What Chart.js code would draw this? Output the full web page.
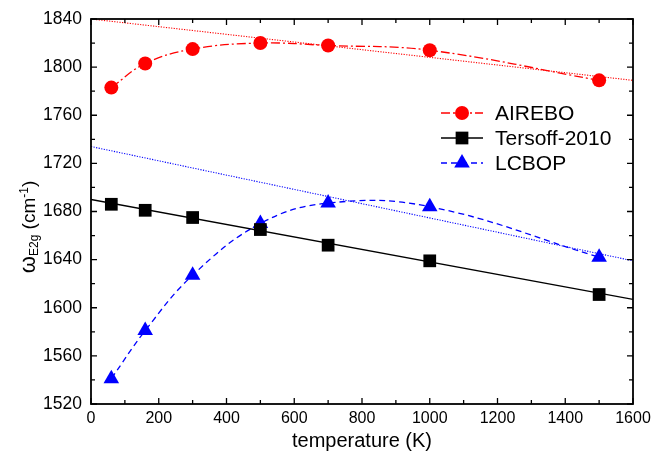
<!DOCTYPE html>
<html><head><meta charset="utf-8">
<script src="https://cdn.jsdelivr.net/npm/chart.js@4.4.1/dist/chart.umd.min.js"></script>
<style>html,body{margin:0;padding:0;background:#fff}#wrap{width:654px;height:454px;position:relative}</style>
</head><body><div id="wrap"><canvas id="c"></canvas></div>
<script>
// ---- data ----
const temperature = [60, 160, 300, 500, 700, 1000, 1500];
const airebo  = [1783, 1803, 1815, 1820, 1818, 1814, 1789];
const tersoff = [1686, 1681, 1675, 1665, 1652, 1639, 1611];
const lcbop   = [1541, 1581, 1627, 1670, 1687, 1684, 1642];
const fitTemperature = [0, 1600];
const aireboFit  = [1840, 1789];
const tersoffFit = [1690, 1607];
const lcbopFit   = [1734, 1639];
const seriesNames = ['AIREBO', 'Tersoff-2010', 'LCBOP'];
const xRange = [0, 1600], xMajor = 200, xMinor = 100;
const yRange = [1520, 1840], yMajor = 40, yMinor = 20;
const xTitle = 'temperature (K)';

const FONT = "'Liberation Sans', Arial, sans-serif";
const RED = '#ff0000', BLUE = '#0000ff', BLACK = '#000000';
const pts = (xs, ys) => xs.map((x, i) => ({x: x, y: ys[i]}));

const datasets = [
  {label: 'AIREBO fit', data: pts(fitTemperature, aireboFit), borderColor: RED, borderWidth: 1.1, borderDash: [1.2, 1.4], pointRadius: 0, fill: false},
  {label: 'LCBOP fit', data: pts(fitTemperature, lcbopFit), borderColor: BLUE, borderWidth: 1.1, borderDash: [1.2, 1.4], pointRadius: 0, fill: false},
  {label: 'Tersoff fit', data: pts(fitTemperature, tersoffFit), borderColor: BLACK, borderWidth: 1.3, pointRadius: 0, fill: false},
  {label: seriesNames[0], data: pts(temperature, airebo), borderColor: RED, backgroundColor: RED, borderWidth: 1.3, borderDash: [9, 3, 2, 3], tension: 0.4, pointStyle: 'circle', pointRadius: 7, pointBorderWidth: 0, pointBackgroundColor: RED, showLine: true},
  {label: seriesNames[1], data: pts(temperature, tersoff), borderColor: BLACK, backgroundColor: BLACK, borderWidth: 1.3, showLine: false, pointStyle: 'rect', pointRadius: 9, pointBorderWidth: 0, pointBackgroundColor: BLACK},
  {label: seriesNames[2], data: pts(temperature, lcbop), borderColor: BLUE, backgroundColor: BLUE, borderWidth: 1.3, borderDash: [6, 4], tension: 0.4, pointStyle: 'triangle', pointRadius: 9, pointBorderWidth: 0, pointBackgroundColor: BLUE, showLine: true}
];

const frameTicks = {
  id: 'frameTicks',
  afterDatasetsDraw(chart) {
    const {ctx, chartArea: {left, right, top, bottom}, scales: {x, y}} = chart;
    ctx.save();
    ctx.strokeStyle = BLACK; ctx.lineWidth = 1.3; ctx.setLineDash([]);
    ctx.beginPath();
    for (let v = xRange[0]; v <= xRange[1]; v += xMinor) {
      const p = x.getPixelForValue(v), len = (v % xMajor === 0) ? 6 : 4;
      ctx.moveTo(p, bottom); ctx.lineTo(p, bottom - len);
      ctx.moveTo(p, top); ctx.lineTo(p, top + len);
    }
    for (let v = yRange[0]; v <= yRange[1]; v += yMinor) {
      const p = y.getPixelForValue(v), len = ((v - yRange[0]) % yMajor === 0) ? 6 : 4;
      ctx.moveTo(left, p); ctx.lineTo(left + len, p);
      ctx.moveTo(right, p); ctx.lineTo(right - len, p);
    }
    ctx.stroke();
    ctx.lineWidth = 1.8;
    ctx.strokeRect(left, top, right - left, bottom - top);
    ctx.restore();
  }
};

const legendPlugin = {
  id: 'customLegend',
  afterDraw(chart) {
    const {ctx} = chart;
    const items = [
      {ds: chart.data.datasets[3], line: chart.data.datasets[3]},
      {ds: chart.data.datasets[4], line: chart.data.datasets[2]},
      {ds: chart.data.datasets[5], line: chart.data.datasets[5]}
    ];
    const x0 = 441, x1 = 483, xm = 462, xt = 495, y0 = 113, dy = 25;
    ctx.save();
    items.forEach((it, i) => {
      const yy = y0 + i * dy;
      ctx.strokeStyle = it.line.borderColor;
      ctx.lineWidth = 1.3;
      ctx.setLineDash(it.line.borderDash || []);
      ctx.beginPath(); ctx.moveTo(x0, yy); ctx.lineTo(x1, yy); ctx.stroke();
      ctx.setLineDash([]);
      ctx.fillStyle = it.ds.pointBackgroundColor;
      ctx.strokeStyle = it.ds.pointBackgroundColor;
      Chart.helpers.drawPoint(ctx, {pointStyle: it.ds.pointStyle, radius: it.ds.pointRadius, rotation: 0, borderWidth: 0}, xm, yy);
      ctx.fillStyle = BLACK;
      ctx.font = '21px ' + FONT;
      ctx.textBaseline = 'middle'; ctx.textAlign = 'left';
      ctx.fillText(it.ds.label, xt, yy + 1);
    });
    ctx.restore();
  }
};

const yTitlePlugin = {
  id: 'yTitle',
  afterDraw(chart) {
    const {ctx} = chart;
    const parts = [
      {t: '\u03c9', size: 22, dy: 0},
      {t: 'E2g', size: 12, dy: 3},
      {t: ' (cm', size: 19, dy: 0},
      {t: '-1', size: 12, dy: -7},
      {t: ')', size: 19, dy: 0}
    ];
    ctx.save();
    let total = 0;
    parts.forEach(p => { ctx.font = p.size + 'px ' + FONT; p.w = ctx.measureText(p.t).width; total += p.w; });
    ctx.translate(35, 227);
    ctx.rotate(-Math.PI / 2);
    ctx.fillStyle = BLACK; ctx.textBaseline = 'alphabetic'; ctx.textAlign = 'left';
    let cx = -total / 2;
    parts.forEach(p => { ctx.font = p.size + 'px ' + FONT; ctx.fillText(p.t, cx, p.dy); cx += p.w; });
    ctx.restore();
  }
};

new Chart(document.getElementById('c'), {
  type: 'line',
  data: {datasets: datasets},
  options: {
    responsive: true, maintainAspectRatio: false, animation: false,
    layout: {padding: {top: 19, right: 21, left: 0, bottom: 0}},
    plugins: {legend: {display: false}, tooltip: {enabled: false}},
    scales: {
      x: {
        type: 'linear', min: xRange[0], max: xRange[1],
        ticks: {stepSize: xMajor, color: BLACK, font: {family: FONT, size: 16}, padding: 5, maxRotation: 0, autoSkip: false, callback: v => String(v)},
        grid: {display: false, drawTicks: false}, border: {display: false},
        title: {display: true, text: xTitle, color: BLACK, font: {family: FONT, size: 20}, padding: {top: 0, bottom: 1}},
        afterFit(s) { s.height = 50; s.paddingLeft = 0; s.paddingRight = 0; }
      },
      y: {
        type: 'linear', min: yRange[0], max: yRange[1],
        ticks: {stepSize: yMajor, color: BLACK, font: {family: FONT, size: 17.5}, padding: 9, callback: v => String(v)},
        grid: {display: false, drawTicks: false}, border: {display: false},
        afterFit(s) { s.width = 91; s.paddingTop = 0; s.paddingBottom = 0; }
      }
    }
  },
  plugins: [frameTicks, legendPlugin, yTitlePlugin]
});
</script>
</body></html>
